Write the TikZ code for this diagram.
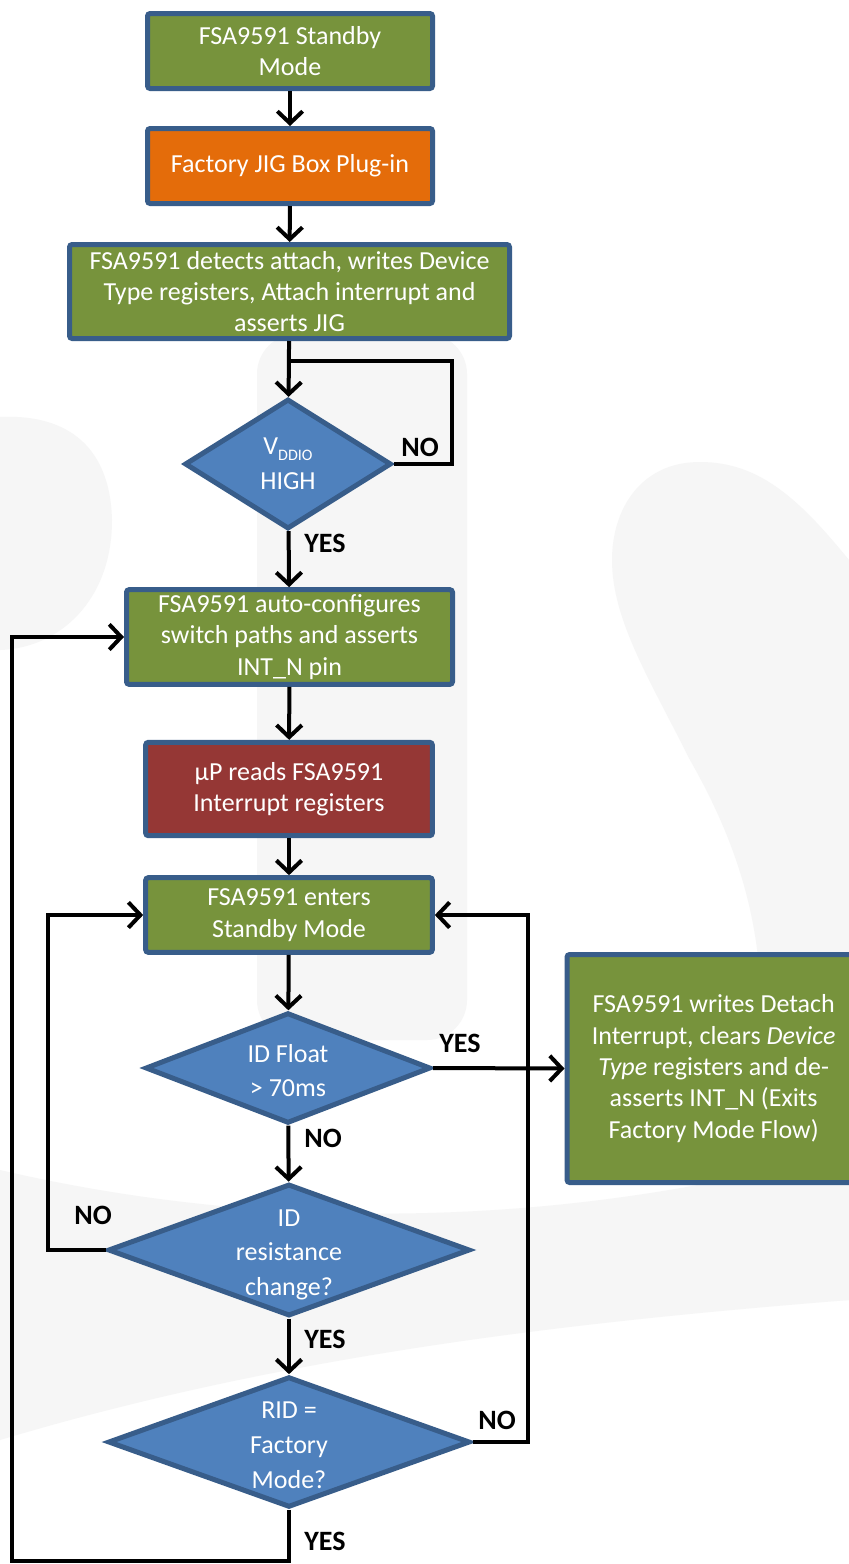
\documentclass[tikz,border=0pt]{standalone}
\usepackage{fontspec}
\setmainfont{Carlito}
\usetikzlibrary{arrows.meta,shapes.geometric}
\definecolor{bgreen}{HTML}{77933C}
\definecolor{borange}{HTML}{E46C0A}
\definecolor{bred}{HTML}{953735}
\definecolor{bblue}{HTML}{4F81BD}
\definecolor{bborder}{HTML}{385D8A}
\definecolor{wmark}{HTML}{F6F6F6}
\begin{document}
\begin{tikzpicture}[x=0.75pt,y=-0.75pt,
  box/.style={draw=bborder, line width=3.75pt, rounded corners=2pt, text=white, align=center,
    font=\fontsize{19.5}{23.5}\selectfont, inner sep=0pt},
  dia/.style={diamond, draw=bborder, fill=bblue, line width=3.75pt, inner sep=0pt},
  dtext/.style={text=white, align=center, font=\fontsize{19.5}{26}\selectfont},
  btext/.style={text=white, align=center, font=\fontsize{19.5}{23.5}\selectfont},
  arr/.style={line width=3pt, -{Straight Barb[length=9pt,width=19pt,line width=3pt]}},
  ln/.style={line width=3pt},
  wm/.style={fill=wmark},
  lbl/.style={font=\fontsize{21}{21}\selectfont\bfseries}]
\useasboundingbox (0,0) rectangle (849,1564);
\begin{scope}
\clip (0,0) rectangle (849,1564);
\fill[white] (0,0) rectangle (849,1564);
% faint watermark
\fill[wm, rounded corners=30pt] (257,334) rectangle (467,1040);
\fill[wm] (0,417) .. controls (60,414) and (110,440) .. (112,520) .. controls (112,600) and (60,648) .. (0,650) -- cycle;
\fill[wm] (849,560) .. controls (800,500) and (760,462) .. (700,462) .. controls (640,462) and (612,510) .. (612,560)
  .. controls (612,620) and (650,680) .. (690,760) .. controls (730,830) and (755,900) .. (760,980)
  -- (780,1300) -- (849,1300) -- cycle;
\fill[wm] (0,1170) .. controls (300,1240) and (600,1220) .. (849,1150) -- (849,1300)
  .. controls (600,1320) and (300,1350) .. (0,1440) -- cycle;

% boxes
\node[box, fill=bgreen, minimum width=213.75pt, minimum height=56.25pt] (b1) at (290,51) {FSA9591 Standby\\Mode};
\node[box, fill=borange, minimum width=213.75pt, minimum height=56.25pt] (b2) at (290,166) {Factory JIG Box Plug-in};
\node[box, fill=bgreen, minimum width=330pt, minimum height=70.5pt] (b3) at (289.5,291.5) {FSA9591 detects attach, writes Device\\Type registers, Attach interrupt and\\asserts JIG};
\node[dia, minimum width=155pt, minimum height=97.5pt,
  label={[dtext]center:{V{\fontsize{12}{12}\selectfont\raisebox{-4pt}{DDIO}}\\HIGH}}] (d1) at (288,464) {};
\node[box, fill=bgreen, minimum width=244.5pt, minimum height=71pt] (b5) at (289.5,637) {FSA9591 auto-configures\\switch paths and asserts\\INT\_N pin};
\node[box, fill=bred, minimum width=215pt, minimum height=70pt] (b6) at (289,789) {µP reads FSA9591\\Interrupt registers};
\node[box, fill=bgreen, minimum width=215pt, minimum height=56pt] (b7) at (289,915) {FSA9591 enters\\Standby Mode};
\node[dia, minimum width=214pt, minimum height=83pt,
  label={[dtext, yshift=-2pt]center:{ID Float\\> 70ms}}] (d2) at (288,1068) {};
\node[box, fill=bgreen, minimum width=240pt, minimum height=171pt,
  label={[btext, xshift=-10pt]center:{FSA9591 writes Detach\\Interrupt, clears \textit{Device}\\\textit{Type} registers and de-\\asserts INT\_N (Exits\\Factory Mode Flow)}}] (b9) at (727,1068.5) {};
\node[dia, minimum width=271.5pt, minimum height=99pt,
  label={[dtext, yshift=-3.5pt]center:{ID\\resistance\\change?}}] (d3) at (289,1250) {};
\node[dia, minimum width=271.5pt, minimum height=98pt,
  label={[dtext, yshift=-2.5pt]center:{RID =\\Factory\\Mode?}}] (d4) at (289,1442) {};

% helper coordinates
\coordinate (j1) at (288,361);
\coordinate (c1) at (452,361);
\coordinate (cl) at (12,1561);
\coordinate (cnl) at (48,1250);
\coordinate (cnr) at (528,1442);

% connectors
\draw[arr] (b1) -- (b2);
\draw[arr] (b2) -- (b3);
\draw[arr] (b3) -- (d1);
\draw[ln] (d1.east) -| (c1) -- (j1);
\draw[arr] (d1) -- (b5);
\draw[arr] (b5) -- (b6);
\draw[arr] (b6) -- (b7);
\draw[arr] (b7) -- (d2);
\draw[arr] (d2.east) -- (b9.west);
\draw[arr] (d2) -- (d3);
\draw[arr] (d3.west) -- (cnl) |- (b7.west);
\draw[arr] (d3) -- (d4);
\draw[arr] (d4.east) -- (cnr) |- (b7.east);
\draw[arr] (d4.south) |- (cl) |- (b5.west);

% labels
\node[lbl] (l1) at (420,447) {NO};
\node[lbl] (l2) at (325,543) {YES};
\node[lbl] (l3) at (460,1043) {YES};
\node[lbl] (l4) at (323,1138) {NO};
\node[lbl] (l5) at (93,1215) {NO};
\node[lbl] (l6) at (325,1339) {YES};
\node[lbl] (l7) at (497,1420) {NO};
\node[lbl] (l8) at (325,1541) {YES};
\end{scope}
\end{tikzpicture}
\end{document}
